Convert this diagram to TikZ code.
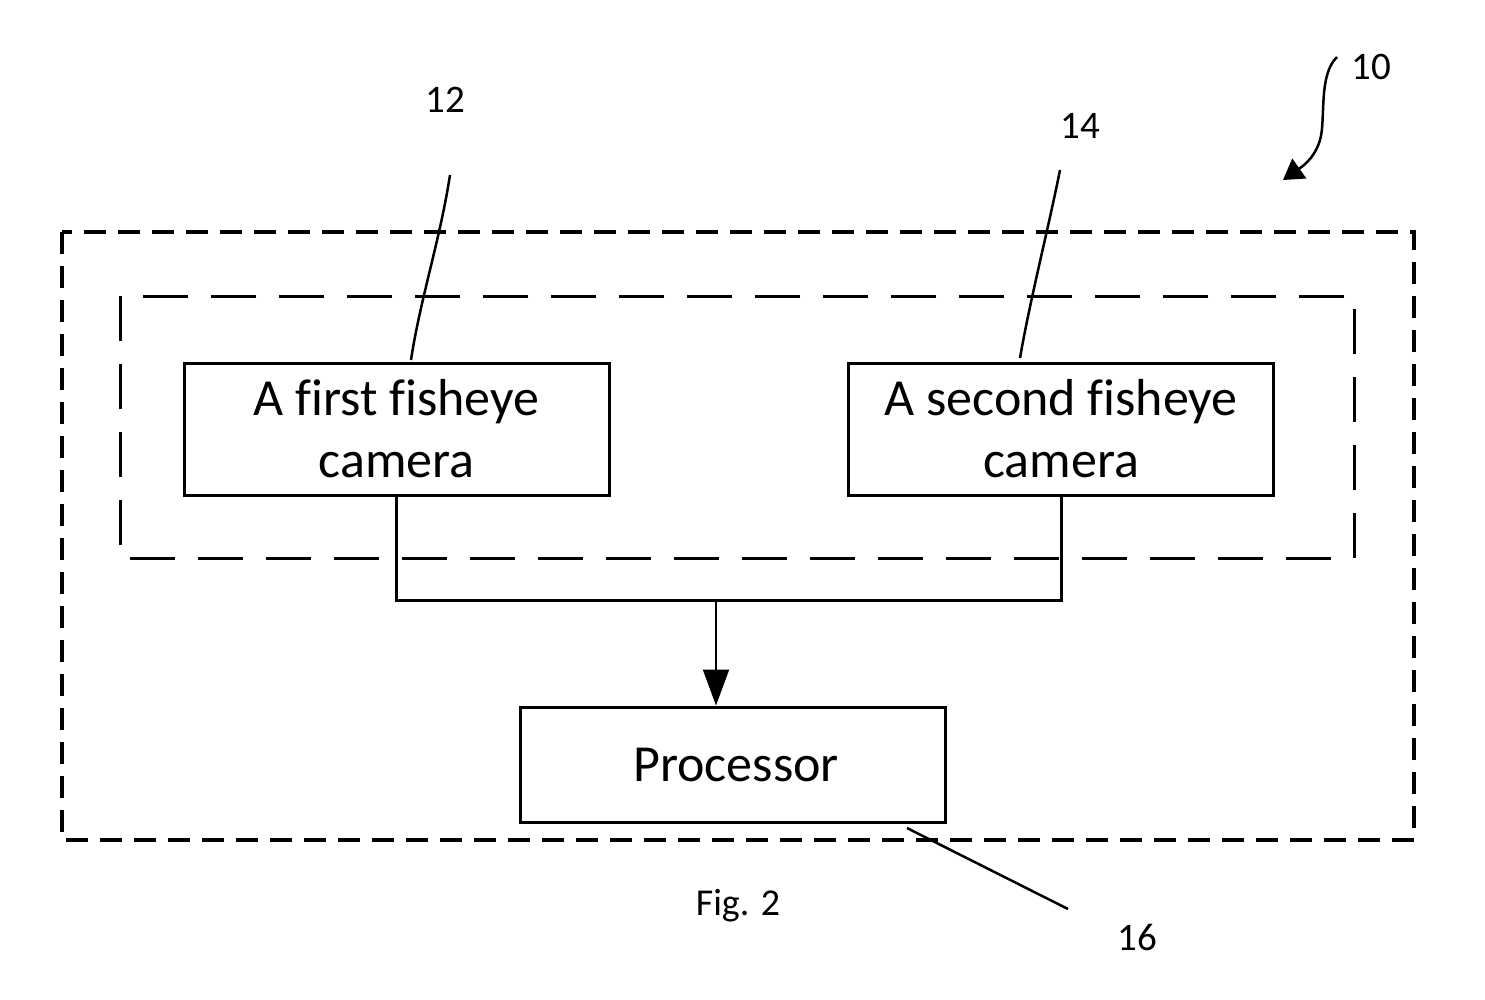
\documentclass[tikz,border=0pt]{standalone}
\usepackage{fontspec}
\setmainfont[Ligatures=NoCommon]{Carlito}
\usetikzlibrary{arrows.meta}
\begin{document}
\begin{tikzpicture}[x=1pt,y=-1pt,
  box/.style={draw,line width=3pt,minimum width=425pt,align=center,font=\fontsize{52}{62}\selectfont,inner sep=0pt},
  outerdash/.style={draw,line width=3.2pt,dash pattern=on 22pt off 12pt},
  innerdash/.style={draw,line width=3pt,dash pattern=on 45pt off 23pt},
  conn/.style={line width=3pt},
  lead/.style={line width=2.5pt},
  lbl/.style={font=\fontsize{39}{46}\selectfont,inner sep=0pt}]
\useasboundingbox (0,0) rectangle (1485,999);
\draw[outerdash] (62,232) rectangle (1414,840);
\draw[innerdash] (120,296) rectangle (1354,558);
\node[box,minimum height=132pt] (c1) at (396.5,429) {A first fisheye\\camera};
\node[box,minimum height=132pt] (c2) at (1061,429) {A second fisheye\\camera};
\node[box,minimum height=115pt] (p) at (733,764.5) {\hspace*{6pt}Processor};
\coordinate (j) at (716,600);
\draw[conn] (c1.south) |- (c2.south |- j) -- (c2.south);
\draw[line width=2pt,-{Triangle[width=26pt,length=36pt]}] (j) -- (j |- p.north);
\node[lbl] (l12) at (445,100) {12};
\node[lbl] (l14) at (1080,126) {14};
\node[lbl] (l10) at (1371,67) {10};
\node[lbl] (l16) at (1137,937) {16};
\node[lbl,font=\fontsize{38}{46}\selectfont] (fig) at (738,906) {Fig. 2};
\coordinate (a12) at (450,175);
\coordinate (b12) at (411,360);
\draw[lead] (a12) .. controls (440,240) and (420,300) .. (b12);
\coordinate (a14) at (1060,170);
\coordinate (b14) at (1020,358);
\draw[lead] (a14) .. controls (1048,230) and (1030,300) .. (b14);
\coordinate (a10) at (1337,57);
\coordinate (b10) at (1283,180);
\draw[lead,-{Triangle[width=24pt,length=20pt]}] (a10) .. controls (1318,75) and (1326,120) .. (1320,140) .. controls (1314,160) and (1300,168) .. (b10);
\coordinate (a16) at (907,828);
\coordinate (b16) at (1068,909);
\draw[lead] (a16) -- (b16);
\end{tikzpicture}
\end{document}
